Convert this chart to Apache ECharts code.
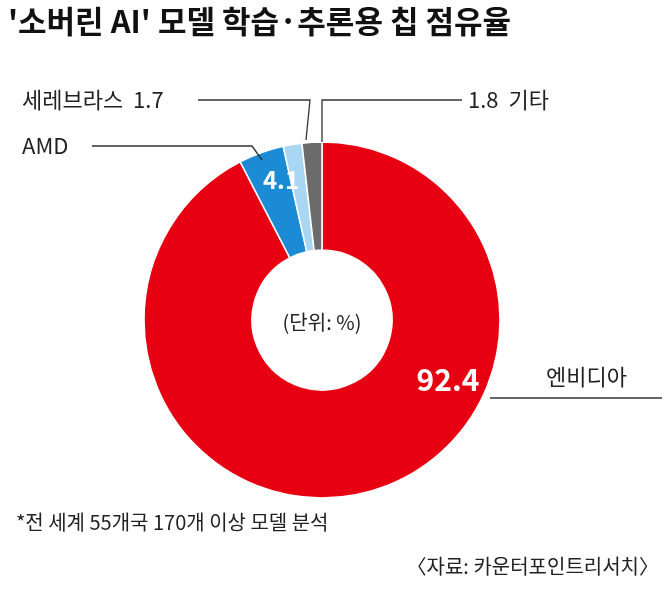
<!DOCTYPE html><html><head><meta charset="utf-8"><script src="https://cdn.jsdelivr.net/npm/echarts@6/dist/echarts.min.js"></script>
<style>html,body{margin:0;padding:0;background:#fff}#c{width:671px;height:596px}</style></head><body><div id="c"></div><script>
const categories=['엔비디아','AMD','세레브라스','기타'];
const values=[92.4,4.1,1.7,1.8];
const colors=['#e60012','#1b8bd5','#a8d6f3','#6b6b6b'];
const title="'소버린 AI' 모델 학습·추론용 칩 점유율";
const unit='(단위: %)';
const note='*전 세계 55개국 170개 이상 모델 분석';
const source='〈자료: 카운터포인트리서치〉';
const F='"Noto Sans CJK KR","Noto Sans",sans-serif';
const ch=echarts.init(document.getElementById('c'));
const L={stroke:'#333',lineWidth:1.3};
ch.setOption({animation:false,
series:[{type:'pie',center:[322,320],radius:[70,178],startAngle:90,clockwise:true,
itemStyle:{borderColor:'#fff',borderWidth:1.5},label:{show:false},labelLine:{show:false},
data:categories.map((c,i)=>({name:c,value:values[i],itemStyle:{color:colors[i]}}))}],
graphic:{elements:[
{type:'text',left:8,top:6,z:100,style:{text:title,font:'bold 31px '+F,fill:'#111'}},
{type:'text',x:322,y:322,z:100,style:{text:unit,font:'20px '+F,fill:'#222',align:'center',verticalAlign:'middle'}},
{type:'text',x:448,y:380,z:100,style:{text:String(values[0]),font:'bold 30px '+F,fill:'#fff',align:'center',verticalAlign:'middle'}},
{type:'text',x:281,y:180,z:100,style:{text:String(values[1]),font:'bold 24px '+F,fill:'#fff',align:'center',verticalAlign:'middle'}},
{type:'text',x:22,y:100,z:100,style:{text:categories[2]+'  '+values[2],font:'22px '+F,fill:'#222',verticalAlign:'middle'}},
{type:'polyline',z:100,shape:{points:[[198,100],[310,100],[306,140]]},style:L},
{type:'text',x:468,y:100,z:100,style:{text:values[3]+'  '+categories[3],font:'22px '+F,fill:'#222',verticalAlign:'middle'}},
{type:'polyline',z:100,shape:{points:[[462,100],[322,100],[322,142]]},style:L},
{type:'text',x:22,y:146,z:100,style:{text:categories[1],font:'22px '+F,fill:'#222',verticalAlign:'middle'}},
{type:'polyline',z:100,shape:{points:[[92,146],[252,146],[262,160]]},style:L},
{type:'text',x:546,y:377,z:100,style:{text:categories[0],font:'22px '+F,fill:'#222',verticalAlign:'middle'}},
{type:'polyline',z:100,shape:{points:[[490,398],[662,398]]},style:L},
{type:'text',left:16,top:512,z:100,style:{text:note,font:'20px '+F,fill:'#222'}},
{type:'text',right:12,top:556,z:100,style:{text:source,font:'20px '+F,fill:'#222'}}
]}});
</script></body></html>
